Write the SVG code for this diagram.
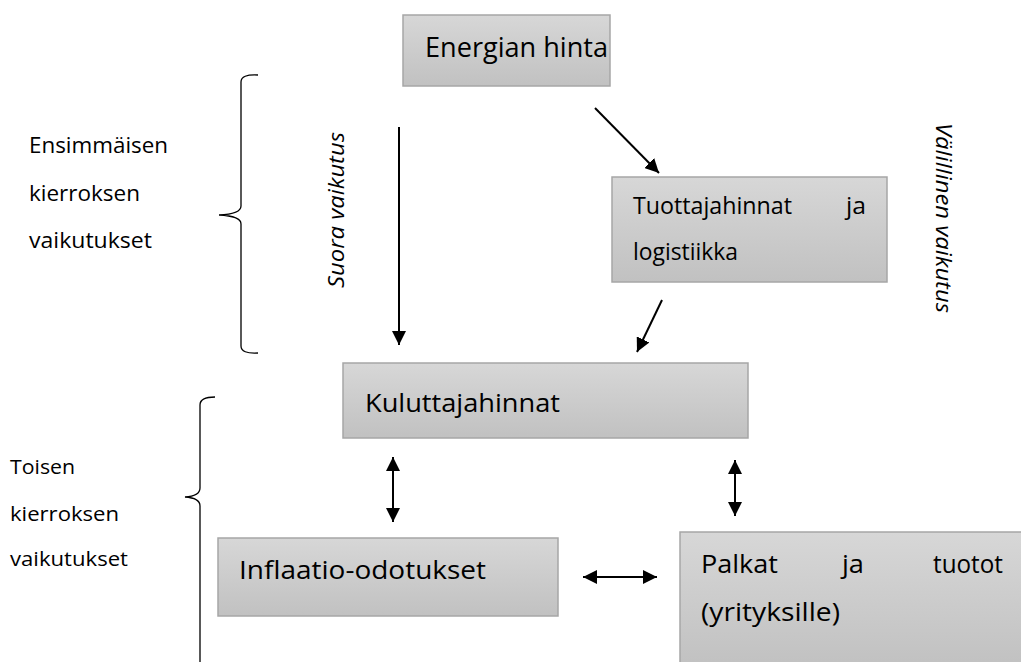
<svg xmlns="http://www.w3.org/2000/svg" width="1021" height="662" viewBox="0 0 1021 662">
<style>
.box{fill:url(#g);stroke:#a6a6a6;stroke-width:1.5}
.t{font-family:"Open Sans","Liberation Sans",sans-serif;fill:#000}
.c{stroke:#000;stroke-width:2;fill:none}
.br{stroke:#000;stroke-width:1.3;fill:none}
</style>
<defs>
<linearGradient id="g" x1="0" y1="0" x2="0" y2="1">
<stop offset="0" stop-color="#d7d7d7"/>
<stop offset="1" stop-color="#c1c1c1"/>
</linearGradient>
<marker id="ah" viewBox="0 0 10 10" refX="10" refY="5" markerWidth="7" markerHeight="7" orient="auto-start-reverse" markerUnits="strokeWidth">
<path d="M0,0 L10,5 L0,10 z" fill="#000"/>
</marker>
</defs>

<g id="brace1">
<path class="br" d="M258,75 Q241,74 241,82 L241,206 Q241,214 219,215 Q241,216 241,224 L241,346 Q241,354 258,353"/>
</g>
<g id="brace2">
<path class="br" d="M215,397 Q200,397 200,405 L200,488 Q200,496 185,497 Q200,498 200,506 L200,662"/>
</g>

<g id="label-first" class="t" font-size="21" lengthAdjust="spacingAndGlyphs">
<text x="29" y="153" textLength="139" lengthAdjust="spacingAndGlyphs">Ensimmäisen</text>
<text x="29" y="201" textLength="111" lengthAdjust="spacingAndGlyphs">kierroksen</text>
<text x="29" y="248" textLength="123" lengthAdjust="spacingAndGlyphs">vaikutukset</text>
</g>
<g id="label-second" class="t" font-size="20">
<text x="10" y="474" textLength="65" lengthAdjust="spacingAndGlyphs">Toisen</text>
<text x="10" y="521" textLength="109" lengthAdjust="spacingAndGlyphs">kierroksen</text>
<text x="10" y="566" textLength="118" lengthAdjust="spacingAndGlyphs">vaikutukset</text>
</g>

<g id="node-energian">
<rect class="box" x="403" y="15" width="207" height="71"/>
<text class="t" x="425" y="57" font-size="28" textLength="183" lengthAdjust="spacingAndGlyphs">Energian hinta</text>
</g>
<g id="node-tuottaja">
<rect class="box" x="612" y="177" width="275" height="105"/>
<text class="t" x="633" y="214" font-size="23" textLength="159" lengthAdjust="spacingAndGlyphs">Tuottajahinnat</text>
<text class="t" x="846" y="214" font-size="23" textLength="20" lengthAdjust="spacingAndGlyphs">ja</text>
<text class="t" x="633" y="260" font-size="23" textLength="105" lengthAdjust="spacingAndGlyphs">logistiikka</text>
</g>
<g id="node-kuluttaja">
<rect class="box" x="343" y="363" width="405" height="75"/>
<text class="t" x="365" y="412" font-size="25" textLength="195" lengthAdjust="spacingAndGlyphs">Kuluttajahinnat</text>
</g>
<g id="node-inflaatio">
<rect class="box" x="218" y="538" width="340" height="78"/>
<text class="t" x="239" y="579" font-size="26" textLength="247" lengthAdjust="spacingAndGlyphs">Inflaatio-odotukset</text>
</g>
<g id="node-palkat">
<rect class="box" x="680" y="532" width="345" height="135"/>
<text class="t" x="701" y="573" font-size="25" textLength="77" lengthAdjust="spacingAndGlyphs">Palkat</text>
<text class="t" x="842" y="573" font-size="25" textLength="22" lengthAdjust="spacingAndGlyphs">ja</text>
<text class="t" x="933" y="573" font-size="25" textLength="70" lengthAdjust="spacingAndGlyphs">tuotot</text>
<text class="t" x="701" y="621" font-size="25" textLength="139" lengthAdjust="spacingAndGlyphs">(yrityksille)</text>
</g>

<g id="edge-labels" class="t" font-style="italic" font-size="21">
<text transform="translate(344,288) rotate(-90)" textLength="156" lengthAdjust="spacingAndGlyphs">Suora vaikutus</text>
<text transform="translate(936,123) rotate(90)" textLength="190" lengthAdjust="spacingAndGlyphs">Välillinen vaikutus</text>
</g>

<g id="connectors">
<line class="c" x1="399" y1="127" x2="399" y2="345" marker-end="url(#ah)"/>
<line class="c" x1="595" y1="108" x2="659" y2="173" marker-end="url(#ah)"/>
<line class="c" x1="662" y1="300" x2="637" y2="352" marker-end="url(#ah)"/>
<line class="c" x1="393" y1="457" x2="393" y2="522" marker-start="url(#ah)" marker-end="url(#ah)"/>
<line class="c" x1="735" y1="460" x2="735" y2="516" marker-start="url(#ah)" marker-end="url(#ah)"/>
<line class="c" x1="583" y1="577" x2="657" y2="577" marker-start="url(#ah)" marker-end="url(#ah)"/>
</g>
</svg>
